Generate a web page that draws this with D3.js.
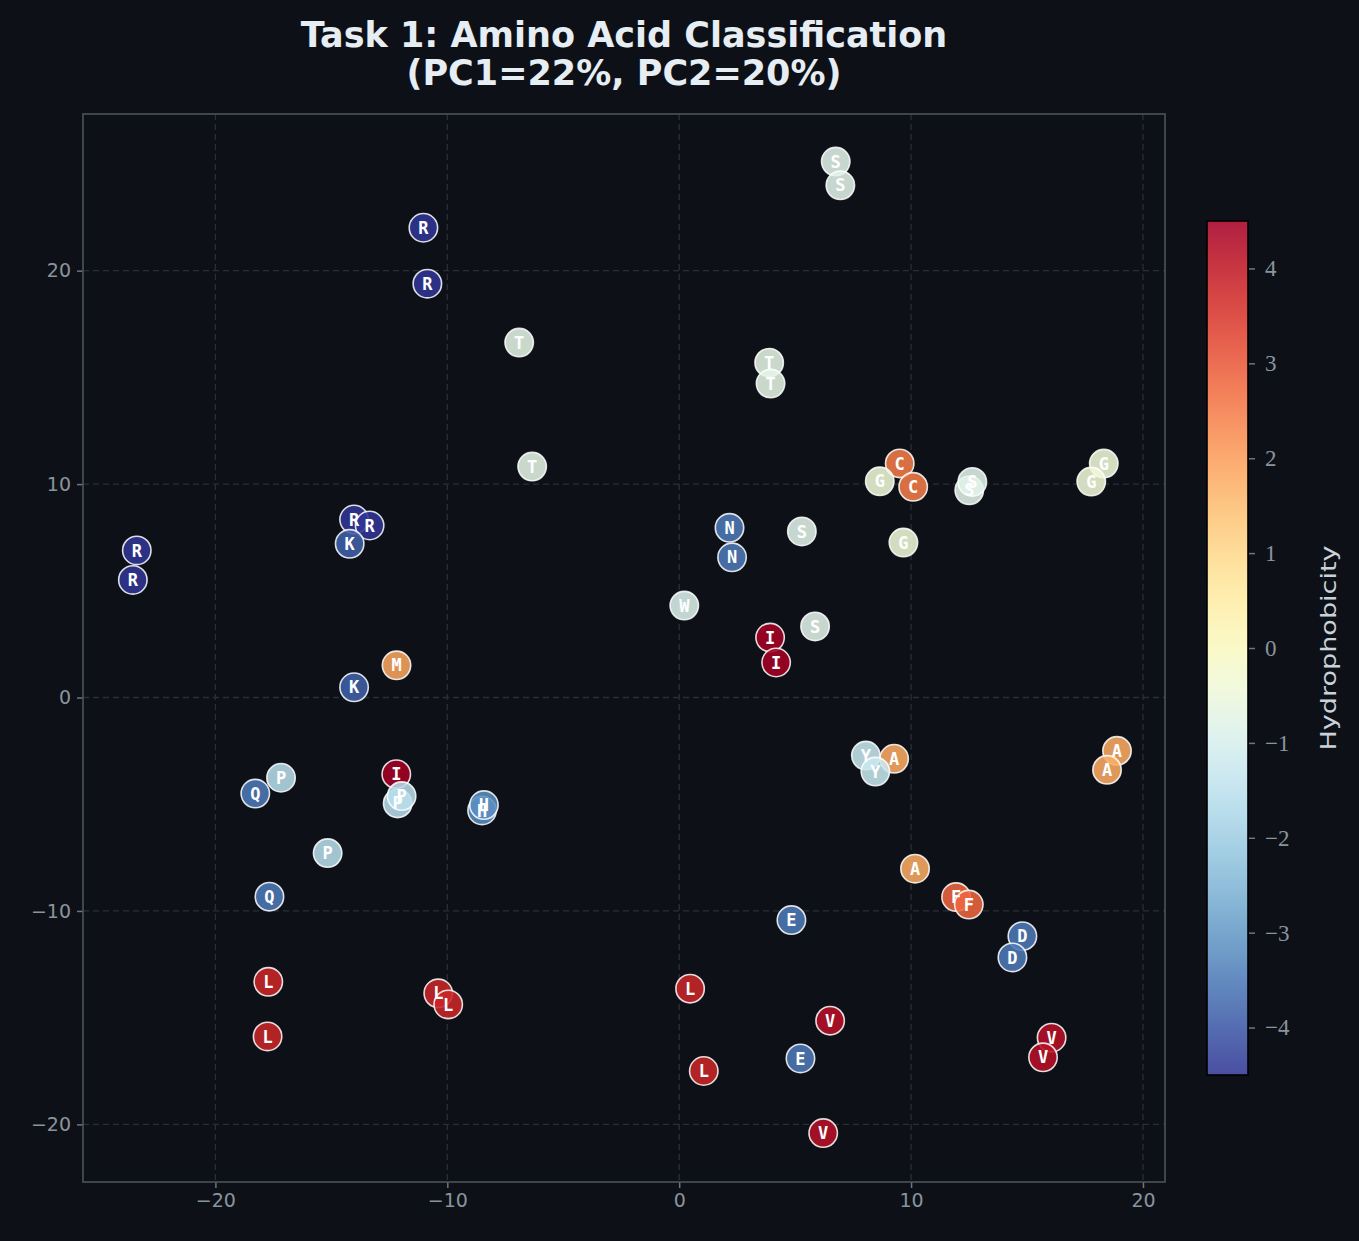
<!DOCTYPE html>
<html>
<head>
<meta charset="utf-8">
<script src="https://cdn.jsdelivr.net/npm/d3@7"></script>
<style>
  body { margin: 0; background: #0d1117; }
  svg { display: block; }
</style>
</head>
<body>
<script>
// chart values
var residues = ["R","R","R","R","R","R","K","K","M","P","Q","I","P","P","H","H","P","Q",
                "T","T","S","S","T","T","C","C","G","S","S","G","G","N","N","S","G","W",
                "S","I","I","Y","A","Y","A","A","A","F","F","E","D","D","V","E","V","V",
                "L","L","L","L","L","L","V"];
var pc1 = [-11.03,-10.86,-23.39,-23.56,-14.02,-13.35,-14.21,-14.02,-12.19,-17.17,-18.28,-12.20,-12.14,-11.97,-8.50,-8.42,-15.16,-17.67,
           -6.90,-6.34,6.75,6.95,3.88,3.94,9.51,10.09,8.65,12.51,12.64,18.31,17.77,2.17,2.28,5.29,9.67,0.22,
           5.86,3.92,4.18,8.05,9.27,8.46,18.88,18.45,10.17,11.94,12.49,4.84,14.80,14.37,6.51,5.23,16.06,15.69,
           -17.72,-17.75,-10.39,-9.96,0.47,1.06,6.21];
var pc2 = [22.01,19.39,6.89,5.51,8.34,8.06,7.20,0.48,1.51,-3.76,-4.50,-3.59,-4.96,-4.62,-5.29,-5.04,-7.29,-9.33,
           16.63,10.82,25.11,24.00,15.69,14.71,10.97,9.87,10.13,9.71,10.10,10.96,10.12,7.95,6.57,7.78,7.26,4.31,
           3.33,2.81,1.64,-2.72,-2.87,-3.47,-2.50,-3.39,-8.02,-9.35,-9.70,-10.43,-11.18,-12.18,-15.14,-16.91,-15.94,-16.86,
           -13.32,-15.88,-13.86,-14.38,-13.64,-17.50,-20.41];

// Kyte-Doolittle scale
var kdLetters = ["I","V","L","F","C","M","A","G","T","S","W","Y","P","H","E","Q","D","N","K","R"];
var kdValues  = [4.5,4.2,3.8,2.8,2.5,1.9,1.8,-0.4,-0.7,-0.8,-0.9,-1.3,-1.6,-3.2,-3.5,-3.5,-3.5,-3.5,-3.9,-4.5];

var xTicks = [-20,-10,0,10,20];
var yTicks = [-20,-10,0,10,20];
var cbTicks = [-4,-3,-2,-1,0,1,2,3,4];

var W = 1359, H = 1241;
var plot = {left: 83, right: 1165, top: 114, bottom: 1182};
var bar = {left: 1207, right: 1248, top: 221, bottom: 1075};

var hydro = {};
kdLetters.forEach(function(l, i){ hydro[l] = kdValues[i]; });
var points = residues.map(function(r, i){ return {aa: r, x: pc1[i], y: pc2[i], h: hydro[r]}; });

var svg = d3.select("body").append("svg")
    .attr("width", W).attr("height", H)
    .style("font-family", "'DejaVu Sans', sans-serif");

svg.append("rect").attr("width", W).attr("height", H).attr("fill", "#0d1117");

var xScale = d3.scaleLinear().domain([-25.71, 20.95]).range([plot.left, plot.right]);
var yScale = d3.scaleLinear().domain([-22.70, 27.34]).range([plot.bottom, plot.top]);
var colorOf = function(v){ return d3.interpolateRdYlBu(1 - (v + 4.5) / 9); };

// grid
var grid = svg.append("g");
grid.selectAll(".gx").data(xTicks).enter().append("line")
    .attr("x1", function(d){ return xScale(d); }).attr("x2", function(d){ return xScale(d); })
    .attr("y1", plot.top).attr("y2", plot.bottom)
    .attr("stroke", "#2a2f37").attr("stroke-width", 1.3).attr("stroke-dasharray", "6,4");
grid.selectAll(".gy").data(yTicks).enter().append("line")
    .attr("y1", function(d){ return yScale(d); }).attr("y2", function(d){ return yScale(d); })
    .attr("x1", plot.left).attr("x2", plot.right)
    .attr("stroke", "#2a2f37").attr("stroke-width", 1.3).attr("stroke-dasharray", "6,4");

// axes
var fmt = function(d){ return d < 0 ? "\u2212" + Math.abs(d) : d; };
var xAxis = svg.append("g")
    .attr("transform", "translate(0," + plot.bottom + ")")
    .call(d3.axisBottom(xScale).tickValues(xTicks).tickFormat(fmt).tickSize(6).tickPadding(6));
var yAxis = svg.append("g")
    .attr("transform", "translate(" + plot.left + ",0)")
    .call(d3.axisLeft(yScale).tickValues(yTicks).tickFormat(fmt).tickSize(6).tickPadding(6));
[xAxis, yAxis].forEach(function(a){
  a.select(".domain").remove();
  a.selectAll(".tick line").attr("stroke", "#6e7681").attr("stroke-width", 1.5);
  a.selectAll(".tick text").attr("fill", "#8b949e").attr("font-size", "19px")
    .attr("font-family", "'DejaVu Sans', sans-serif");
});

svg.append("rect")
    .attr("x", plot.left).attr("y", plot.top)
    .attr("width", plot.right - plot.left).attr("height", plot.bottom - plot.top)
    .attr("fill", "none").attr("stroke", "#4d535b").attr("stroke-width", 1.6);

// circles first, letters on top
var dots = svg.append("g");
dots.selectAll("circle").data(points).enter().append("circle")
    .attr("cx", function(d){ return xScale(d.x); })
    .attr("cy", function(d){ return yScale(d.y); })
    .attr("r", 14.2)
    .attr("fill", function(d){ return colorOf(d.h); })
    .attr("fill-opacity", 0.88)
    .attr("stroke", "#ffffff").attr("stroke-opacity", 0.85).attr("stroke-width", 1.6);

dots.selectAll("text").data(points).enter().append("text")
    .attr("x", function(d){ return xScale(d.x); })
    .attr("y", function(d){ return yScale(d.y); })
    .attr("dy", "0.36em")
    .attr("text-anchor", "middle")
    .attr("font-family", "'DejaVu Sans Mono', monospace")
    .attr("font-weight", "bold")
    .attr("font-size", "17px")
    .attr("fill", "#ffffff")
    .text(function(d){ return d.aa; });

// title
var title = svg.append("text")
    .attr("x", (plot.left + plot.right) / 2).attr("text-anchor", "middle")
    .attr("fill", "#e6edf3").attr("font-weight", "bold").attr("font-size", "35px");
title.append("tspan").attr("x", (plot.left + plot.right) / 2).attr("y", 47).text("Task 1: Amino Acid Classification");
title.append("tspan").attr("x", (plot.left + plot.right) / 2).attr("y", 85).text("(PC1=22%, PC2=20%)");

// colorbar
var defs = svg.append("defs");
var grad = defs.append("linearGradient").attr("id", "cbgrad")
    .attr("x1", 0).attr("y1", 1).attr("x2", 0).attr("y2", 0);
d3.range(0, 1.0001, 0.05).forEach(function(t){
  grad.append("stop").attr("offset", t).attr("stop-color", d3.interpolateRdYlBu(1 - t));
});
var cbScale = d3.scaleLinear().domain([-4.5, 4.5]).range([bar.bottom, bar.top]);
svg.append("rect").attr("x", bar.left).attr("y", bar.top)
    .attr("width", bar.right - bar.left).attr("height", bar.bottom - bar.top).attr("fill", "#ffffff");
svg.append("rect").attr("x", bar.left).attr("y", bar.top)
    .attr("width", bar.right - bar.left).attr("height", bar.bottom - bar.top)
    .attr("fill", "url(#cbgrad)").attr("fill-opacity", 0.88);
svg.append("rect").attr("x", bar.left).attr("y", bar.top)
    .attr("width", bar.right - bar.left).attr("height", bar.bottom - bar.top)
    .attr("fill", "none").attr("stroke", "#000000").attr("stroke-width", 1.6);

var cbAxis = svg.append("g")
    .attr("transform", "translate(" + (bar.right + 1) + ",0)")
    .call(d3.axisRight(cbScale).tickValues(cbTicks).tickFormat(fmt).tickSize(6).tickPadding(10));
cbAxis.select(".domain").remove();
cbAxis.selectAll(".tick line").attr("stroke", "#6e7681").attr("stroke-width", 1.5);
cbAxis.selectAll(".tick text").attr("fill", "#8b949e").attr("font-size", "23px")
    .attr("font-family", "'Liberation Serif', serif");

svg.append("text")
    .attr("transform", "translate(1336," + ((bar.top + bar.bottom) / 2) + ") rotate(-90)")
    .attr("text-anchor", "middle")
    .attr("fill", "#c9d1d9").attr("font-size", "22px")
    .attr("textLength", 205).attr("lengthAdjust", "spacingAndGlyphs")
    .text("Hydrophobicity");
</script>
</body>
</html>
